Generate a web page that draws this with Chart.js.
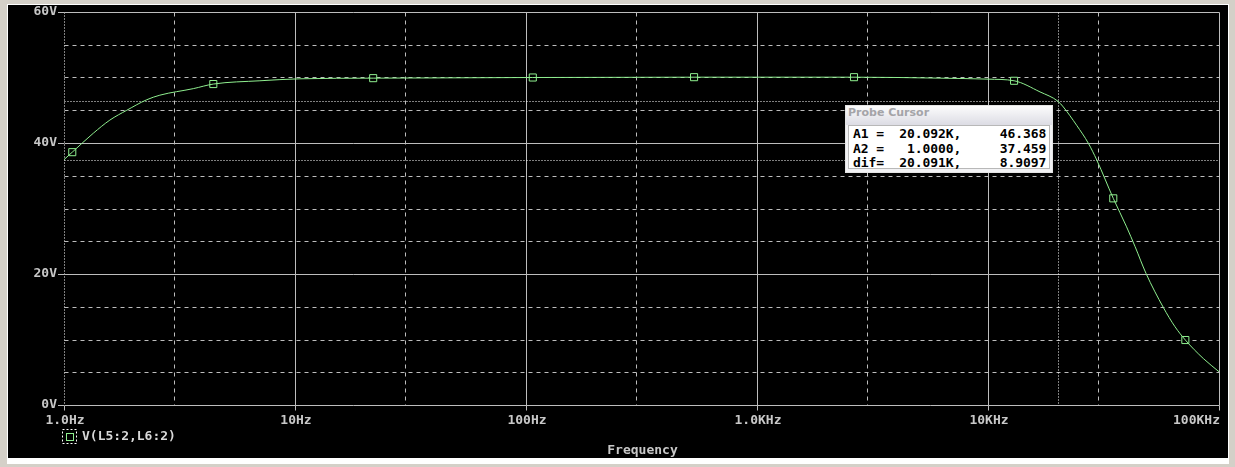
<!DOCTYPE html>
<html><head><meta charset="utf-8">
<script src="https://cdn.jsdelivr.net/npm/chart.js@4/dist/chart.umd.min.js"></script>
<style>
html,body{margin:0;padding:0;background:#d4d0c8;overflow:hidden}
#wrap{position:relative;width:1235px;height:467px}
canvas{display:block}
#probe{position:absolute;left:845px;top:105px;width:208px;height:68px;border:1px solid #e4e4e4;background:#f2f2f4;box-sizing:border-box}
#probe .t{height:19px;line-height:17px;padding-left:2px;font:bold 11px "DejaVu Sans",sans-serif;color:#a4a4a8;background:linear-gradient(#fcfcfc,#dcdce4)}
#probe pre{margin:0 2px;height:44px;box-sizing:border-box;background:#fff;border:1px solid #b8b8b8;font:bold 13px "DejaVu Sans Mono",monospace;color:#000;line-height:14.5px;padding:1px 0 0 4px;letter-spacing:-0.1px}
</style>
</head><body>
<div id="wrap">
<canvas id="c" width="1235" height="467"></canvas>
<div id="probe"><div class="t">Probe Cursor</div><pre id="probeText"></pre></div>
</div>
<script>
// ---- data ----
const seriesLabel = 'V(L5:2,L6:2)';
const freqs = [1, 1.086, 1.34, 1.58, 1.87, 2.28, 2.6, 3.63, 4.43, 7.05, 10.5, 21.8, 107, 534, 2630, 6200, 10000, 12970, 16800, 20092, 21190, 24200, 27200, 29570, 34860, 39800, 43300, 48300, 57400, 64500, 71500, 85500, 100000];
const volts = [37.46, 38.6, 41.5, 43.5, 45.0, 46.6, 47.3, 48.3, 49.0, 49.5, 49.8, 49.9, 50.0, 50.05, 50.05, 49.9, 49.75, 49.5, 47.8, 46.37, 45.5, 42.7, 39.95, 37.4, 31.55, 27.2, 24.2, 20.1, 14.9, 11.95, 9.92, 7.1, 5.08];
const markerFreqs = [1.086, 4.43, 21.8, 107, 534, 2630, 12970, 34860, 71500];
const markerVolts = [38.6, 49.0, 49.9, 50.0, 50.05, 50.05, 49.5, 31.55, 9.92];
const xTickValues = [1, 10, 100, 1000, 10000, 100000];
const xTickLabels = ['1.0Hz', '10Hz', '100Hz', '1.0KHz', '10KHz', '100KHz'];
const xDashedGrid = [3, 30, 300, 3000, 30000];
const yTickValues = [0, 20, 40, 60];
const yTickLabels = ['0V', '20V', '40V', '60V'];
const yDashedGrid = [5, 10, 15, 25, 30, 35, 45, 50, 55];
const cursorFreqs = [20092, 1.0];
const cursorVolts = [46.368, 37.459];
const probeRows = ['A1 =  20.092K,     46.368', 'A2 =   1.0000,     37.459', 'dif=  20.091K,     8.9097'];
const xTitle = 'Frequency';

document.getElementById('probeText').textContent = probeRows.join('\n');

const GREEN = '#8fef8f';
const GRID = '#bdbdbd';
const TEXT = '#c8c8c8';
const FONT = 'bold 13px "DejaVu Sans Mono", monospace';

const decor = {
  id: 'decor',
  beforeDraw(chart) {
    const c = chart.ctx;
    c.save();
    c.fillStyle = '#d4d0c8'; c.fillRect(0, 0, chart.width, chart.height);
    c.fillStyle = '#ffffff'; c.fillRect(7, 4, 1222, 460);
    c.fillStyle = '#000000'; c.fillRect(8, 5, 1220, 453);
    c.restore();
  },
  beforeDatasetsDraw(chart) {
    const c = chart.ctx, a = chart.chartArea, x = chart.scales.x, y = chart.scales.y;
    const px = v => Math.round(x.getPixelForValue(v)) + 0.5;
    const py = v => Math.round(y.getPixelForValue(v)) + 0.5;
    const L = Math.round(a.left) + 0.5, R = Math.round(a.right) + 0.5;
    const T = Math.round(a.top) + 0.5, B = Math.round(a.bottom) + 0.5;
    c.save();
    c.lineWidth = 1;
    c.strokeStyle = GRID;
    c.setLineDash([4, 4]);
    c.beginPath();
    yDashedGrid.forEach(v => { c.moveTo(L, py(v)); c.lineTo(R, py(v)); });
    xDashedGrid.forEach(v => { c.moveTo(px(v), T); c.lineTo(px(v), B); });
    c.stroke();
    c.setLineDash([]);
    c.beginPath();
    yTickValues.forEach(v => { c.moveTo(L, py(v)); c.lineTo(R, py(v)); });
    xTickValues.slice(1).forEach(v => { c.moveTo(px(v), T); c.lineTo(px(v), B); });
    xTickValues.forEach(v => { c.moveTo(px(v), B); c.lineTo(px(v), B + 5); });
    c.stroke();
    c.strokeStyle = '#ffffff';
    c.setLineDash([1, 2]);
    c.beginPath();
    cursorVolts.forEach(v => { c.moveTo(L, py(v)); c.lineTo(R, py(v)); });
    cursorFreqs.forEach(v => { c.moveTo(px(v), T); c.lineTo(px(v), B); });
    c.stroke();
    c.restore();
  },
  afterDraw(chart) {
    const c = chart.ctx, a = chart.chartArea, x = chart.scales.x;
    c.save();
    c.font = FONT;
    c.fillStyle = TEXT;
    c.textBaseline = 'middle';
    xTickValues.forEach((v, i) => {
      const p = x.getPixelForValue(v);
      c.textAlign = (i === xTickValues.length - 1) ? 'right' : 'center';
      c.fillText(xTickLabels[i], p + 1, a.bottom + 16);
    });
    c.textAlign = 'center';
    c.fillText(xTitle, (a.left + a.right) / 2 + 1, a.bottom + 46);
    c.strokeStyle = '#ffffff'; c.lineWidth = 1;
    c.setLineDash([2, 2]);
    c.strokeRect(62.5, 429.5, 14, 14);
    c.setLineDash([]);
    c.strokeStyle = GREEN;
    c.strokeRect(66.5, 433.5, 7, 7);
    c.fillStyle = '#d8d8d8';
    c.textAlign = 'left';
    c.fillText(chart.data.datasets[0].label, 82, 437);
    c.restore();
  }
};

new Chart(document.getElementById('c'), {
  type: 'line',
  data: {
    datasets: [{
      label: seriesLabel,
      data: freqs.map((f, i) => ({ x: f, y: volts[i] })),
      borderColor: GREEN, borderWidth: 1, pointRadius: 0,
      cubicInterpolationMode: 'monotone', fill: false
    }, {
      label: 'markers',
      data: markerFreqs.map((f, i) => ({ x: f, y: markerVolts[i] })),
      showLine: false, pointStyle: 'rect', pointRadius: 5,
      borderColor: GREEN, backgroundColor: '#000000', borderWidth: 1
    }]
  },
  options: {
    responsive: false, animation: false, devicePixelRatio: 1,
    layout: { padding: { left: 8, right: 16, top: 12, bottom: 62 } },
    plugins: { legend: { display: false }, tooltip: { enabled: false } },
    events: [],
    scales: {
      x: { type: 'logarithmic', min: 1, max: 100000, display: false },
      y: {
        type: 'linear', min: 0, max: 60,
        afterFit(s) { s.width = 56; },
        afterBuildTicks(s) { s.ticks = yTickValues.map(v => ({ value: v })); },
        ticks: {
          color: TEXT, padding: 1,
          font: { family: '"DejaVu Sans Mono", monospace', size: 13, weight: 'bold' },
          callback: v => yTickLabels[yTickValues.indexOf(v)]
        },
        grid: { drawOnChartArea: false, drawTicks: true, tickLength: 6, color: GRID, tickColor: GRID },
        border: { display: false }
      }
    }
  },
  plugins: [decor]
});
</script>
</body></html>
